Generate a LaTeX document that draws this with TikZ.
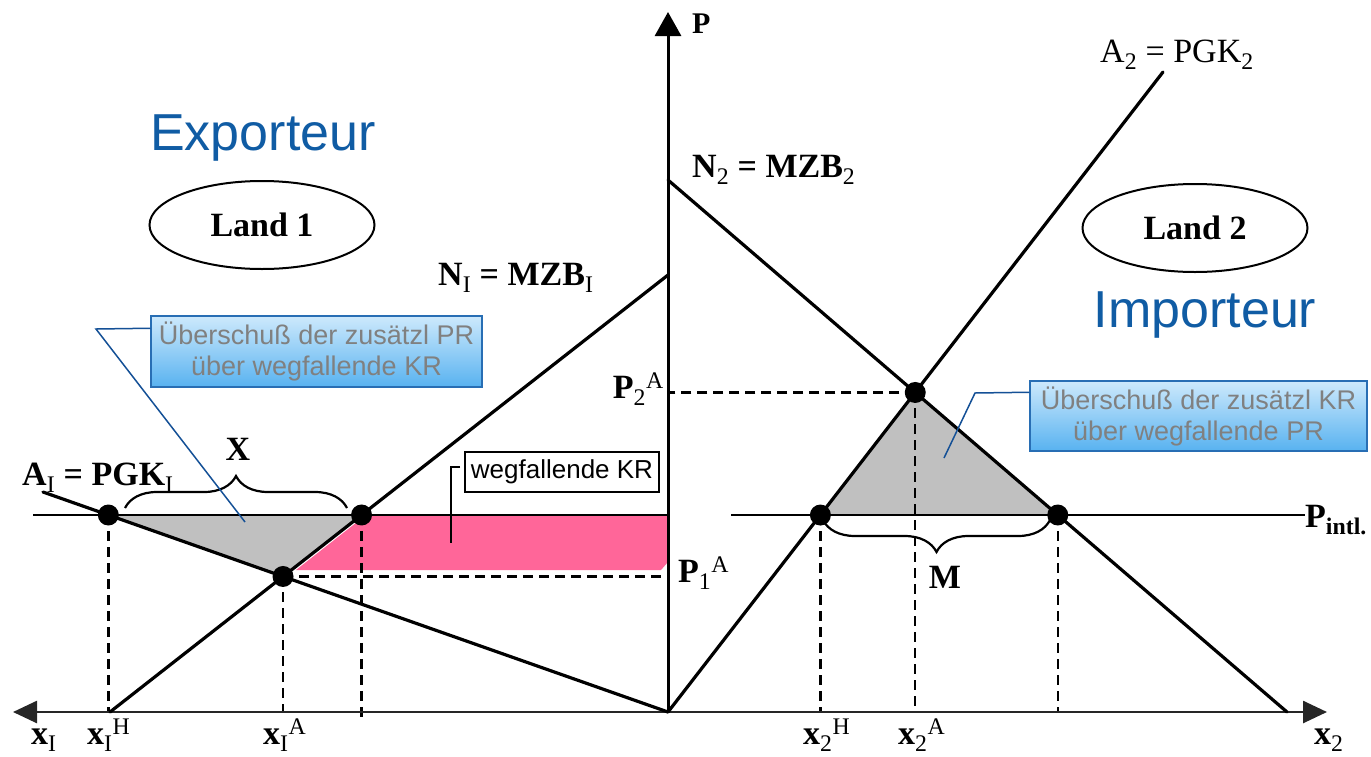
\documentclass[tikz,border=0pt]{standalone}
\usepackage{fontspec}
\setmainfont{Liberation Serif}
\newfontfamily\arialf{Liberation Sans}
\usetikzlibrary{arrows.meta,shapes.geometric,decorations.pathreplacing,calc}
\definecolor{pinkfill}{RGB}{255,102,153}
\definecolor{greyfill}{RGB}{192,192,192}
\definecolor{titleblue}{RGB}{16,92,164}
\definecolor{calltop}{RGB}{205,233,252}
\definecolor{callbot}{RGB}{88,178,240}
\definecolor{callborder}{RGB}{40,110,180}
\definecolor{calltext}{RGB}{128,128,128}
\definecolor{pointerc}{RGB}{20,80,150}
\begin{document}
\begin{tikzpicture}[x=1pt,y=-1pt,
  curve/.style={line width=3.2pt,black,line cap=round},
  axisline/.style={line width=2.6pt,black!85},
  guide/.style={line width=2.4pt,dash pattern=on 10pt off 6pt},
  dot/.style={circle,fill=black,inner sep=0pt,minimum size=21pt},
  lbl/.style={font=\fontsize{34}{40}\selectfont\bfseries,inner sep=0pt},
  lblr/.style={font=\fontsize{34}{40}\selectfont,inner sep=0pt},
  title/.style={font=\arialf\fontsize{52}{60}\selectfont,text=titleblue,inner sep=0pt},
  land/.style={ellipse,draw,line width=2pt,minimum width=225pt,minimum height=88pt,inner sep=0pt,font=\fontsize{34}{40}\selectfont\bfseries},
  callout/.style={draw=callborder,line width=1.5pt,top color=calltop,bottom color=callbot,text=calltext,align=center,font=\arialf\fontsize{27}{31}\selectfont,inner sep=0pt},
  pointer/.style={draw=pointerc,line width=1.5pt},
  bracebr/.style={decorate,decoration={brace,amplitude=32pt,aspect=0.5},line width=2.2pt},
  tip/.style={-{Triangle[length=24pt,width=26pt]}}
]
\useasboundingbox (0,0) rectangle (1371,756);
% key coordinates
\coordinate (O) at (668,712);
\coordinate (Ptop) at (668,12);
\coordinate (xL) at (13,712);
\coordinate (xR) at (1327,712);
\coordinate (A1s) at (43,492);
\coordinate (N1s) at (110,712);
\coordinate (N1e) at (668,275);
\coordinate (N2s) at (668,180);
\coordinate (N2e) at (1287,712);
\coordinate (A2e) at (1163,72);
\coordinate (PiL1) at (33,515);
\coordinate (PiL2) at (668,515);
\coordinate (PiR1) at (731,515);
\coordinate (PiR2) at (1305,515);
% intersections
\coordinate (p1) at (intersection of A1s--O and PiL1--PiL2);
\coordinate (p2) at (intersection of A1s--O and N1s--N1e);
\coordinate (p3) at (intersection of N1s--N1e and PiL1--PiL2);
\coordinate (p4) at (intersection of N2s--N2e and O--A2e);
\coordinate (p5) at (intersection of O--A2e and PiR1--PiR2);
\coordinate (p6) at (intersection of N2s--N2e and PiR1--PiR2);
% fills
\fill[pinkfill] (366,515) -- (668,515) -- (668,562) -- (661,570) -- (296,570) -- cycle;
\fill[greyfill] (p1) -- (p3) -- (p2) -- cycle;
\fill[greyfill] (p5) -- (p4) -- (p6) -- cycle;
% dashed guides
\draw[guide] (p1) -- (p1 |- O);
\draw[guide] (p2) -- (p2 |- O);
\draw[guide] (p3) -- ($(p3 |- O)+(0,6)$);
\draw[guide] (p2) -- (p2 -| O);
\draw[guide] (p4) -- (p4 -| O);
\draw[guide] (p5) -- (p5 |- O);
\draw[guide] (p4) -- (p4 |- O);
\draw[guide] (p6) -- (p6 |- O);
% axes
\draw[axisline,{Triangle[length=24pt,width=22pt]}-{Triangle[length=24pt,width=22pt]}] (xL) -- (xR);
\draw[line width=3pt,tip] (O) -- (Ptop);
% price lines
\draw[line width=2.6pt] (PiL1) -- (PiL2);
\draw[line width=2.6pt] (PiR1) -- (PiR2);
% curves
\draw[curve] (A1s) -- (O);
\draw[curve] (N1s) -- (N1e);
\draw[curve] (N2s) -- (N2e);
\draw[curve] (O) -- (A2e);
% dots
\node[dot] (d1) at (p1) {};
\node[dot] (d2) at (p2) {};
\node[dot] (d3) at (p3) {};
\node[dot] (d4) at (p4) {};
\node[dot] (d5) at (p5) {};
\node[dot] (d6) at (p6) {};
% braces
\coordinate (bxa) at (125,508);
\coordinate (bxb) at (347,508);
\draw[bracebr] (bxa) -- (bxb);
\coordinate (bma) at (1050,520);
\coordinate (bmb) at (823,520);
\draw[bracebr] (bma) -- (bmb);
% titles and countries
\node[title,anchor=base] (exp) at (263,150) {Exporteur};
\node[title,anchor=base] (imp) at (1205,327) {Importeur};
\node[land] (land1) at (262,225) {Land 1};
\node[land] (land2) at (1195,228) {Land 2};
% labels
\node[lbl,anchor=base west,font=\fontsize{30}{36}\selectfont\bfseries] (lP) at (692,33) {P};
\node[lbl,anchor=base west] (lN2) at (692,177) {N\textsubscript{\mdseries 2} = MZB\textsubscript{\mdseries 2}};
\node[lbl,anchor=base west] (lN1) at (438,285) {N\textsubscript{\mdseries I} = MZB\textsubscript{\mdseries I}};
\node[lblr,anchor=base west] (lA2) at (1100,62) {A\textsubscript{2} = PGK\textsubscript{2}};
\node[lbl,anchor=base west] (lA1) at (22,485) {A\textsubscript{\mdseries I} = PGK\textsubscript{\mdseries I}};
\node[lbl,anchor=base] (lX) at (238,460) {X};
\node[lbl,anchor=base] (lM) at (945,588) {M};
\node[lbl,anchor=base east] (lP2) at (664,398) {P\textsubscript{\mdseries 2}\textsuperscript{\mdseries A}};
\node[lbl,anchor=base west] (lP1) at (678,582) {P\textsubscript{\mdseries 1}\textsuperscript{\mdseries A}};
\node[lbl,anchor=base west] (lPi) at (1305,527) {P\textsubscript{intl.}};
\node[lbl,anchor=base west] (lx1) at (31,744) {x\textsubscript{\mdseries I}};
\node[lbl,anchor=base west] (lx1H) at (87,744) {x\textsubscript{\mdseries I}\textsuperscript{\mdseries H}};
\node[lbl,anchor=base west] (lx1A) at (263,744) {x\textsubscript{\mdseries I}\textsuperscript{\mdseries A}};
\node[lbl,anchor=base west] (lx2H) at (803,744) {x\textsubscript{\mdseries 2}\textsuperscript{\mdseries H}};
\node[lbl,anchor=base west] (lx2A) at (898,744) {x\textsubscript{\mdseries 2}\textsuperscript{\mdseries A}};
\node[lbl,anchor=base west] (lx2) at (1314,744) {x\textsubscript{\mdseries 2}};
% callouts
\node[callout,minimum width=331pt,minimum height=71pt] (callL) at (316.5,351.5) {Überschuß der zusätzl PR\\über wegfallende KR};
\coordinate (bendL) at (96,329);
\coordinate (ptL) at (245,522);
\draw[pointer] ($(callL.north west)+(0,13)$) -- (bendL) -- (ptL);
\node[callout,minimum width=337pt,minimum height=70pt] (callR) at (1198.5,416) {Überschuß der zusätzl KR\\über wegfallende PR};
\coordinate (bendR) at (975,393);
\coordinate (ptR) at (944,458);
\draw[pointer] ($(callR.north west)+(0,12)$) -- (bendR) -- (ptR);
\node[draw,line width=1.5pt,minimum width=194pt,minimum height=40pt,inner sep=0pt,font=\arialf\fontsize{26}{31}\selectfont] (wkr) at (562,472) {wegfallende KR};
\coordinate (wkrA) at (460,467);
\coordinate (wkrB) at (451,467);
\coordinate (wkrC) at (451,543);
\draw[line width=2pt] (wkrA) -- (wkrB) -- (wkrC);
\end{tikzpicture}
\end{document}
